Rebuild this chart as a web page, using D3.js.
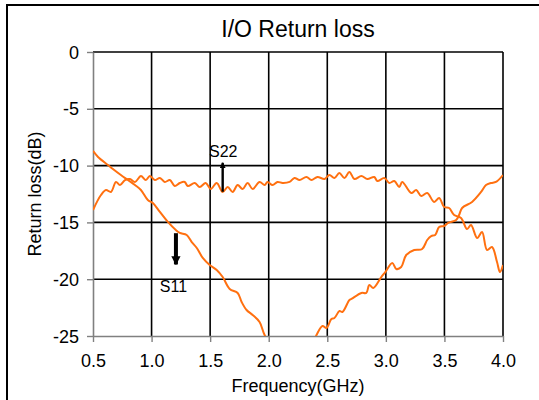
<!DOCTYPE html>
<html>
<head>
<meta charset="utf-8">
<script src="https://cdn.jsdelivr.net/npm/d3@7"></script>
<style>
  html, body { margin: 0; padding: 0; background: #fff; }
  svg { display: block; }
  text { font-family: "Liberation Sans", Arial, sans-serif; fill: #000; }
</style>
</head>
<body>
<svg id="chart" width="539" height="400"></svg>
<script>
// I/O return loss, S11 and S22, in dB versus frequency in GHz
const title = "I/O Return loss";
const xTitle = "Frequency(GHz)";
const yTitle = "Return loss(dB)";
const xTicks = [0.5, 1.0, 1.5, 2.0, 2.5, 3.0, 3.5, 4.0];
const yTicks = [0, -5, -10, -15, -20, -25];

// S11: frequency (GHz) and return loss (dB); dips below the -25 dB floor near 2.2 GHz
const s11Freq = [0.500, 0.543, 0.628, 0.670, 0.738, 0.798, 0.858, 0.909, 0.968, 1.011,
  1.071, 1.139, 1.207, 1.241, 1.300, 1.343, 1.386, 1.437, 1.496, 1.556,
  1.607, 1.667, 1.735, 1.769, 1.811, 1.863, 1.922, 1.965, 2.050, 2.150,
  2.250, 2.350, 2.408, 2.459, 2.493, 2.535, 2.561, 2.604, 2.629, 2.689,
  2.706, 2.791, 2.833, 2.859, 2.893, 2.961, 2.995, 3.055, 3.089, 3.131,
  3.174, 3.242, 3.310, 3.353, 3.387, 3.421, 3.455, 3.498, 3.532, 3.600,
  3.625, 3.651, 3.736, 3.813, 3.855, 3.898, 3.940, 4.000];
const s11Loss = [-8.71, -9.24, -9.95, -10.30, -10.83, -11.27, -11.71, -12.15, -13.03, -13.29,
  -14.08, -14.96, -15.67, -15.93, -16.11, -16.73, -17.25, -18.13, -18.75, -19.19,
  -19.81, -20.86, -21.21, -22.01, -22.71, -23.15, -23.77, -24.91, -26.3, -27.6,
  -27.8, -26.4, -24.91, -24.12, -24.30, -23.50, -23.42, -22.80, -22.89, -21.83,
  -21.74, -21.21, -21.21, -20.51, -20.77, -19.81, -19.37, -18.57, -19.10, -18.93,
  -17.87, -17.43, -17.34, -16.55, -16.20, -16.11, -15.40, -15.32, -15.05, -14.79,
  -14.35, -13.73, -13.20, -12.32, -11.71, -11.53, -11.44, -10.83];

// S22: frequency (GHz) and return loss (dB)
const s22Freq = [0.500, 0.568, 0.611, 0.653, 0.696, 0.730, 0.773, 0.815, 0.858, 0.909,
  0.951, 0.985, 1.028, 1.071, 1.113, 1.156, 1.198, 1.241, 1.283, 1.309,
  1.369, 1.411, 1.462, 1.505, 1.556, 1.607, 1.650, 1.692, 1.735, 1.777,
  1.820, 1.863, 1.922, 1.965, 1.990, 2.033, 2.075, 2.118, 2.178, 2.220,
  2.263, 2.322, 2.365, 2.416, 2.476, 2.518, 2.561, 2.603, 2.646, 2.689,
  2.731, 2.791, 2.842, 2.901, 2.927, 2.987, 3.029, 3.072, 3.114, 3.140,
  3.217, 3.259, 3.302, 3.353, 3.412, 3.455, 3.498, 3.540, 3.583, 3.642,
  3.693, 3.727, 3.779, 3.821, 3.864, 3.906, 3.949, 3.974, 4.000];
const s22Loss = [-13.91, -12.59, -12.15, -12.32, -11.44, -11.71, -11.27, -11.18, -11.44, -10.92,
  -11.27, -10.92, -11.27, -11.09, -11.44, -11.27, -11.80, -11.53, -11.44, -11.80,
  -11.53, -11.88, -11.53, -12.06, -11.53, -12.32, -11.88, -12.32, -11.71, -12.06,
  -11.53, -12.06, -11.44, -11.71, -11.44, -11.71, -11.44, -11.53, -11.44, -11.09,
  -11.27, -11.00, -11.27, -11.00, -11.18, -10.83, -11.09, -10.65, -11.09, -10.56,
  -11.18, -10.92, -11.18, -11.00, -11.36, -11.09, -11.53, -11.36, -11.88, -11.44,
  -12.41, -12.15, -12.68, -12.41, -13.20, -12.85, -13.64, -13.73, -14.35, -14.61,
  -15.58, -15.23, -16.37, -15.85, -17.43, -17.17, -18.49, -19.37, -18.75];

// Callout labels with their arrows (positions in GHz / dB)
const calloutNames = ["S22", "S11"];
const calloutText = [[1.49, -9.25], [1.07, -21.1]];
const calloutArrow = [[1.607, -12.3, -9.75], [1.208, -15.95, -18.7]];

const svg = d3.select("#chart");
const W = 539, H = 400;
const plot = { left: 93, right: 503, top: 52, bottom: 336 };

const x = d3.scaleLinear().domain([0.5, 4.0]).range([plot.left, plot.right]);
const y = d3.scaleLinear().domain([-25, 0]).range([plot.bottom, plot.top]);

// Outer frame
svg.append("rect")
  .attr("x", 7).attr("y", 5).attr("width", W + 10).attr("height", H + 10)
  .attr("fill", "none").attr("stroke", "#000").attr("stroke-width", 2);

// Title
svg.append("text")
  .attr("x", (plot.left + plot.right) / 2).attr("y", 37)
  .attr("text-anchor", "middle").attr("font-size", 23)
  .text(title);

// Grid lines
const grid = svg.append("g");
grid.selectAll("line.v").data(xTicks.slice(1)).join("line")
  .attr("x1", d => x(d)).attr("x2", d => x(d))
  .attr("y1", plot.top).attr("y2", plot.bottom)
  .attr("stroke", "#000").attr("stroke-width", 1.6);
grid.selectAll("line.h").data(yTicks.slice(0, -1)).join("line")
  .attr("x1", plot.left).attr("x2", plot.right)
  .attr("y1", d => y(d)).attr("y2", d => y(d))
  .attr("stroke", "#000").attr("stroke-width", 1.6);

// Axes (plain hyphen for negative values)
const xAxis = d3.axisBottom(x).tickValues(xTicks).tickFormat(d3.format(".1f"))
  .tickSizeInner(6).tickSizeOuter(0).tickPadding(12);
const yAxis = d3.axisLeft(y).tickValues(yTicks).tickFormat(d => String(d))
  .tickSizeInner(6).tickSizeOuter(0).tickPadding(8);

const gx = svg.append("g").attr("transform", `translate(0,${plot.bottom})`).call(xAxis);
const gy = svg.append("g").attr("transform", `translate(${plot.left},0)`).call(yAxis);
[gx, gy].forEach(g => {
  g.select(".domain").attr("stroke", "#808080").attr("stroke-width", 1.6);
  g.selectAll(".tick line").attr("stroke", "#808080").attr("stroke-width", 1.4);
  g.selectAll(".tick text").attr("font-size", 18).attr("fill", "#000")
    .style("font-family", '"Liberation Sans", Arial, sans-serif');
});
gy.selectAll(".tick text").attr("dy", "0.34em");

// Axis titles
svg.append("text")
  .attr("x", (plot.left + plot.right) / 2).attr("y", 392)
  .attr("text-anchor", "middle").attr("font-size", 18)
  .text(xTitle);
svg.append("text")
  .attr("transform", `translate(41,${(plot.top + plot.bottom) / 2}) rotate(-90)`)
  .attr("text-anchor", "middle").attr("font-size", 18)
  .text(yTitle);

// Curves, clipped to the plot area
svg.append("clipPath").attr("id", "plot-clip")
  .append("rect").attr("x", plot.left).attr("y", plot.top)
  .attr("width", plot.right - plot.left).attr("height", plot.bottom - plot.top);

const line = d3.line().x(d => x(d[0])).y(d => y(d[1])).curve(d3.curveCatmullRom.alpha(0.5));
const series = [
  d3.zip(s11Freq, s11Loss),
  d3.zip(s22Freq, s22Loss)
];
svg.append("g").attr("clip-path", "url(#plot-clip)")
  .selectAll("path").data(series).join("path")
  .attr("d", line)
  .attr("fill", "none").attr("stroke", "#ff7010").attr("stroke-width", 2)
  .attr("stroke-linejoin", "round");

// Callouts
const defs = svg.append("defs");
defs.append("marker").attr("id", "head-thin")
  .attr("viewBox", "0 0 10 10").attr("refX", 9).attr("refY", 5)
  .attr("markerWidth", 2.6).attr("markerHeight", 2.6).attr("orient", "auto")
  .attr("markerUnits", "strokeWidth")
  .append("path").attr("d", "M0,0L10,5L0,10Z").attr("fill", "#000");
defs.append("marker").attr("id", "head-thick")
  .attr("viewBox", "0 0 10 10").attr("refX", 9).attr("refY", 5)
  .attr("markerWidth", 2.3).attr("markerHeight", 2.3).attr("orient", "auto")
  .attr("markerUnits", "strokeWidth")
  .append("path").attr("d", "M0,0L10,5L0,10Z").attr("fill", "#000");

const callouts = svg.append("g");
calloutNames.forEach((name, i) => {
  callouts.append("text")
    .attr("x", x(calloutText[i][0])).attr("y", y(calloutText[i][1]))
    .attr("font-size", 16).text(name);
  const a = calloutArrow[i];
  callouts.append("line")
    .attr("x1", x(a[0])).attr("x2", x(a[0]))
    .attr("y1", y(a[1])).attr("y2", y(a[2]))
    .attr("stroke", "#000").attr("stroke-width", i === 0 ? 2.4 : 4)
    .attr("marker-end", i === 0 ? "url(#head-thin)" : "url(#head-thick)");
});
</script>
</body>
</html>
